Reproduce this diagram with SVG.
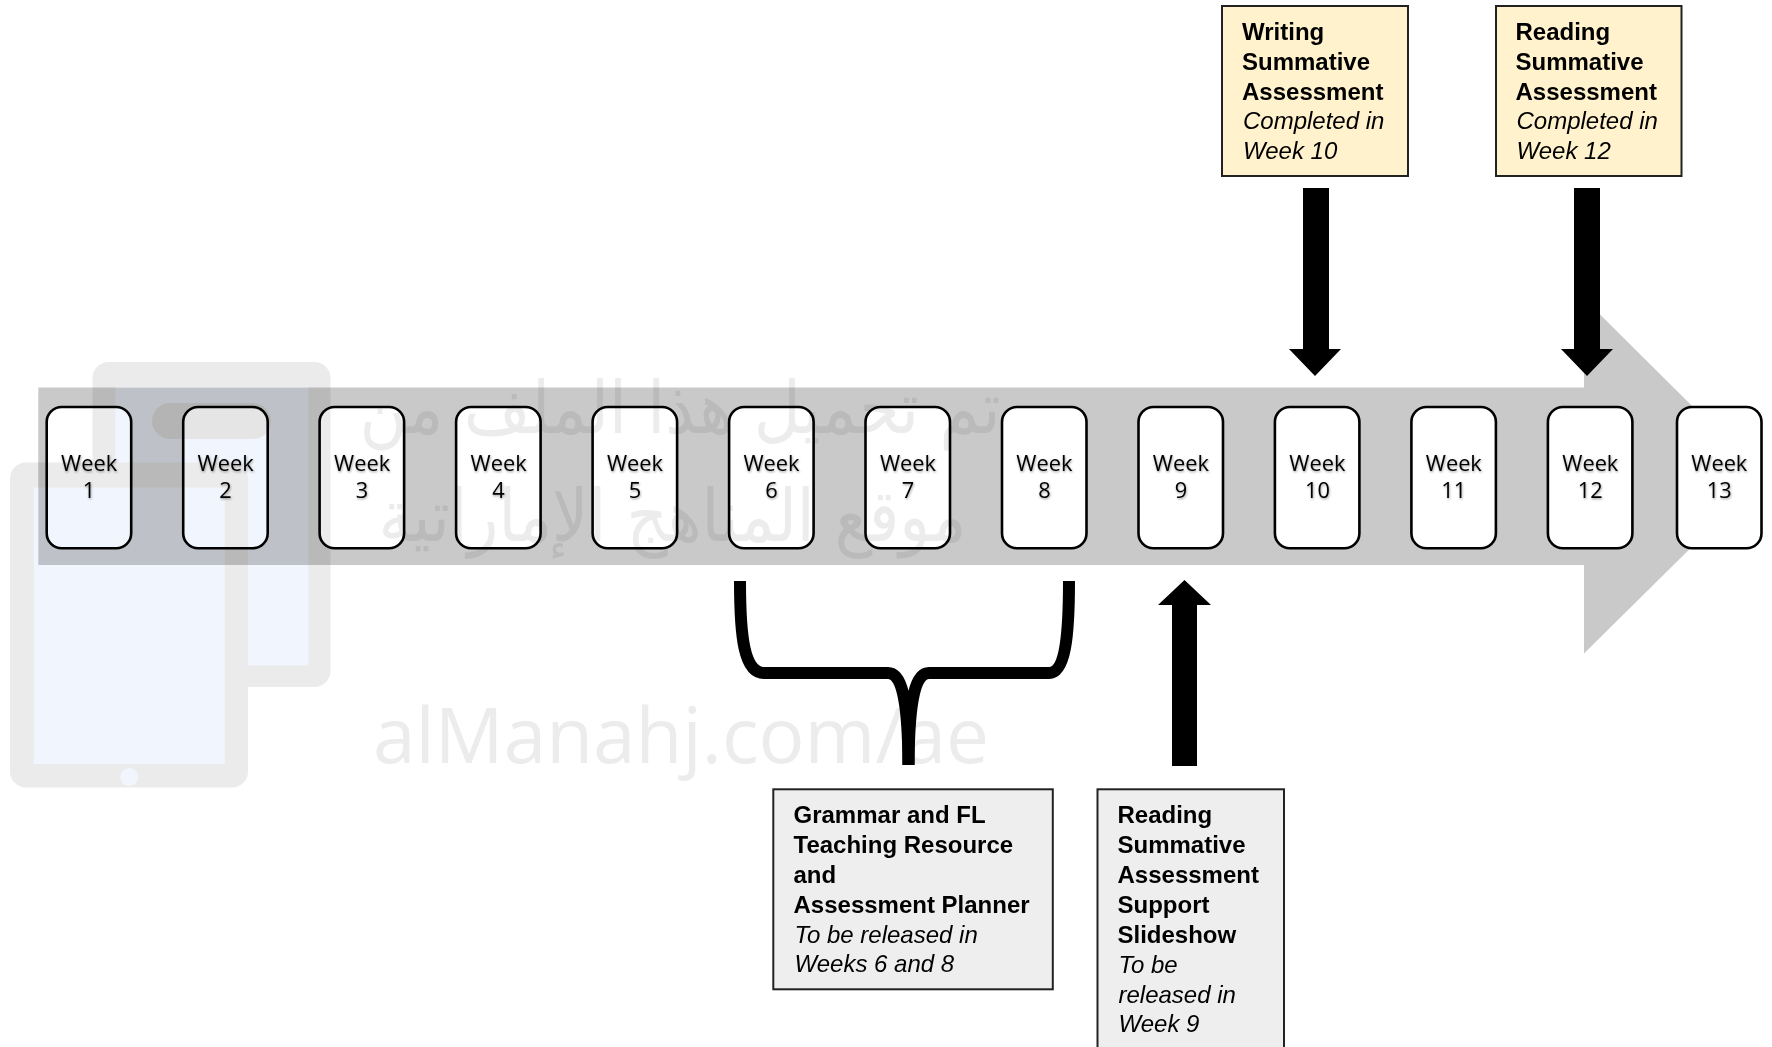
<svg xmlns="http://www.w3.org/2000/svg" width="1772" height="1047" viewBox="0 0 1772 1047">
<style>
text{font-family:"Liberation Sans",Arial,sans-serif}
.wk rect{fill:#fff;stroke:#000;stroke-width:2.6}
.wk text{font-family:"Open Sans","Noto Sans",sans-serif;font-size:21.8px;fill:#000;text-anchor:middle;filter:url(#sh)}
.note rect{stroke:#222;stroke-width:2}
.y rect{fill:#fff2cc}
.g rect{fill:#eee}
.note text{font-size:24px;fill:#000}
.b{font-weight:700}
.i{font-style:italic}
.ar{fill:#000}
#watermark{mix-blend-mode:multiply}
#watermark .f{fill:#ebebeb}
#watermark .s{fill:#f1f6fe}
#watermark .p{fill:#e5e5e5}
#watermark text{fill:#ececec;text-anchor:middle}
</style>
<defs>
<filter id="sh" x="-20%" y="-20%" width="140%" height="150%"><feDropShadow dx="0.6" dy="1.2" stdDeviation="0.8" flood-color="#000" flood-opacity="0.4"/></filter>
</defs>
<polygon id="timeline" fill="#c9c9c9" points="38.300,387.500 1584,387.500 1584,298.400 1763,476.500 1584,653.500 1584,565 38.300,565"/>
<g id="week1" class="wk"><rect x="46.700" y="407" width="84.500" height="141.200" rx="15"/><text x="89.100" y="471">Week</text><text x="89.100" y="497.500">1</text></g>
<g id="week2" class="wk"><rect x="183.200" y="407" width="84.500" height="141.200" rx="15"/><text x="225.600" y="471">Week</text><text x="225.600" y="497.500">2</text></g>
<g id="week3" class="wk"><rect x="319.600" y="407" width="84.500" height="141.200" rx="15"/><text x="362.100" y="471">Week</text><text x="362.100" y="497.500">3</text></g>
<g id="week4" class="wk"><rect x="456.100" y="407" width="84.500" height="141.200" rx="15"/><text x="498.600" y="471">Week</text><text x="498.600" y="497.500">4</text></g>
<g id="week5" class="wk"><rect x="592.600" y="407" width="84.500" height="141.200" rx="15"/><text x="635" y="471">Week</text><text x="635" y="497.500">5</text></g>
<g id="week6" class="wk"><rect x="729.100" y="407" width="84.500" height="141.200" rx="15"/><text x="771.500" y="471">Week</text><text x="771.500" y="497.500">6</text></g>
<g id="week7" class="wk"><rect x="865.500" y="407" width="84.500" height="141.200" rx="15"/><text x="908" y="471">Week</text><text x="908" y="497.500">7</text></g>
<g id="week8" class="wk"><rect x="1002" y="407" width="84.500" height="141.200" rx="15"/><text x="1044.400" y="471">Week</text><text x="1044.400" y="497.500">8</text></g>
<g id="week9" class="wk"><rect x="1138.500" y="407" width="84.500" height="141.200" rx="15"/><text x="1180.900" y="471">Week</text><text x="1180.900" y="497.500">9</text></g>
<g id="week10" class="wk"><rect x="1274.900" y="407" width="84.500" height="141.200" rx="15"/><text x="1317.400" y="471">Week</text><text x="1317.400" y="497.500">10</text></g>
<g id="week11" class="wk"><rect x="1411.400" y="407" width="84.500" height="141.200" rx="15"/><text x="1453.800" y="471">Week</text><text x="1453.800" y="497.500">11</text></g>
<g id="week12" class="wk"><rect x="1547.900" y="407" width="84.500" height="141.200" rx="15"/><text x="1590.300" y="471">Week</text><text x="1590.300" y="497.500">12</text></g>
<g id="week13" class="wk"><rect x="1677" y="407" width="84.500" height="141.200" rx="15"/><text x="1719.300" y="471">Week</text><text x="1719.300" y="497.500">13</text></g>
<g id="connectors">
<polygon class="ar" points="1303,188 1329,188 1329,349 1341,349 1315,376 1289,349 1303,349"/>
<polygon class="ar" points="1574,188 1600,188 1600,349 1613,349 1587,376 1561,349 1574,349"/>
<polygon class="ar" points="1172,766 1197,766 1197,605 1211,605 1184.500,580 1158,605 1172,605"/>
<path d="M740,581 C740,637 744,673 764,673 L888,673 C901,673 908,696 908.500,765 C909,696 916,673 929,673 L1049,673 C1065,673 1069,637 1069,581" fill="none" stroke="#000" stroke-width="12"/>
<rect x="902.500" y="716" width="12" height="49" fill="#000"/>
</g>
<g id="writing" class="note y"><rect x="1222" y="6" width="186" height="170"/>
<text x="1242" y="40.400" class="b">Writing</text><text x="1242" y="70.100" class="b">Summative</text><text x="1242" y="99.500" class="b">Assessment</text><text x="1243" y="129" class="i">Completed in</text><text x="1243" y="159" class="i">Week 10</text></g>
<g id="reading" class="note y"><rect x="1496" y="6" width="185.500" height="170"/>
<text x="1515.500" y="40.400" class="b">Reading</text><text x="1515.500" y="70.100" class="b">Summative</text><text x="1515.500" y="99.500" class="b">Assessment</text><text x="1516.500" y="129" class="i">Completed in</text><text x="1516.500" y="159" class="i">Week 12</text></g>
<g id="grammar" class="note g"><rect x="773.300" y="789.300" width="279.500" height="200"/>
<text x="793.500" y="823" class="b">Grammar and FL</text><text x="793.500" y="853" class="b">Teaching Resource</text><text x="793.500" y="883" class="b">and</text><text x="793.500" y="913" class="b">Assessment Planner</text><text x="794.500" y="942.500" class="i">To be released in</text><text x="794.500" y="972" class="i">Weeks 6 and 8</text></g>
<g id="support" class="note g"><rect x="1097.500" y="789.300" width="186.500" height="270"/>
<text x="1117.500" y="823" class="b">Reading</text><text x="1117.500" y="853" class="b">Summative</text><text x="1117.500" y="883" class="b">Assessment</text><text x="1117.500" y="913" class="b">Support</text><text x="1117.500" y="943" class="b">Slideshow</text><text x="1118.500" y="972.500" class="i">To be</text><text x="1118.500" y="1002.500" class="i">released in</text><text x="1118.500" y="1032" class="i">Week 9</text></g>
<g id="watermark">
<rect class="f" x="92.500" y="362" width="238" height="325" rx="16"/>
<rect class="s" x="115.400" y="387" width="193" height="278.500"/>
<rect class="p" x="152" y="403" width="119" height="36" rx="18"/>
<rect class="f" x="10" y="462.500" width="238" height="325" rx="16"/>
<rect class="s" x="33.800" y="487.500" width="191" height="276.500"/>
<circle class="s" cx="129.300" cy="777" r="9"/>
<text x="680" y="433" font-size="72" style="font-family:'DejaVu Sans',sans-serif" textLength="641" lengthAdjust="spacingAndGlyphs">تم تحميل هذا الملف من</text>
<text x="672.500" y="541" font-size="72" style="font-family:'DejaVu Sans',sans-serif" textLength="588" lengthAdjust="spacingAndGlyphs">موقع المناهج الإماراتية</text>
<text x="681" y="763" font-size="76.500" style="font-family:'Open Sans',sans-serif;font-weight:400">alManahj.com/ae</text>
</g>
</svg>
